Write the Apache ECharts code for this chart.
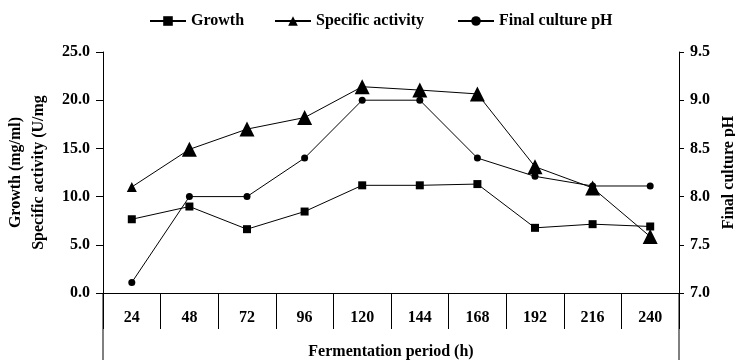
<!DOCTYPE html>
<html>
<head>
<meta charset="utf-8">
<script src="https://cdn.jsdelivr.net/npm/echarts@6/dist/echarts.min.js"></script>
<style>
  html, body { margin: 0; padding: 0; background: #fff; }
  #chart { width: 735px; height: 360px; }
</style>
</head>
<body>
<div id="chart"></div>
<script>
// Fermentation time course: growth, specific activity and final culture pH
const periods = ['24', '48', '72', '96', '120', '144', '168', '192', '216', '240'];
const growth = [7.65, 8.97, 6.62, 8.45, 11.17, 11.17, 11.3, 6.76, 7.14, 6.9];
const specificActivity = [11.0, 14.9, 17.0, 18.2, 21.4, 21.05, 20.65, 13.1, 10.9, 5.85];
const finalPH = [7.11, 8.0, 8.0, 8.4, 9.0, 9.0, 8.4, 8.21, 8.11, 8.11];

const FONT = 'Liberation Serif';
const txt = { fontFamily: FONT, fontWeight: 'bold', fontSize: 16, color: '#000' };

const W = 735, H = 360;
const G = { left: 103, right: 56, top: 52, bottom: 67 };
const axisX0 = G.left, axisX1 = W - G.right, axisY = H - G.bottom;

const chart = echarts.init(document.getElementById('chart'), null, { renderer: 'canvas' });

function legendFor(name, left) {
  return {
    data: [name], left: left, top: 13, padding: 0,
    itemWidth: 36, itemHeight: 12, itemGap: 0,
    textStyle: txt,
    selectedMode: false
  };
}

chart.setOption({
  animation: false,
  backgroundColor: '#fff',
  legend: [
    legendFor('Growth', 149),
    legendFor('Specific activity', 274),
    legendFor('Final culture pH', 457)
  ],
  grid: {
    left: G.left, right: G.right, top: G.top, bottom: G.bottom,
    containLabel: false, outerBoundsMode: 'none'
  },
  xAxis: {
    type: 'category', data: periods, boundaryGap: true,
    axisLine: { show: true, lineStyle: { color: '#000', width: 1 } },
    axisTick: { show: true, interval: 0, length: 36, lineStyle: { color: '#000' } },
    axisLabel: Object.assign({}, txt, { margin: 17, interval: 0 }),
    name: 'Fermentation period (h)', nameLocation: 'middle', nameGap: 51,
    nameTextStyle: txt,
    splitLine: { show: false }
  },
  yAxis: [
    {
      type: 'value', min: 0, max: 25, interval: 5,
      axisLine: { show: true, lineStyle: { color: '#000' } },
      axisTick: { show: true, length: 7, lineStyle: { color: '#000' } },
      axisLabel: Object.assign({}, txt, { margin: 13, formatter: v => v.toFixed(1) }),
      splitLine: { show: false },
      name: 'Growth (mg/ml)\nSpecific activity (U/mg', nameLocation: 'middle', nameGap: 53,
      nameTextStyle: Object.assign({}, txt, { lineHeight: 23 })
    },
    {
      type: 'value', min: 7, max: 9.5, interval: 0.5,
      axisLine: { show: true, lineStyle: { color: '#000' } },
      axisTick: { show: true, length: 5, lineStyle: { color: '#000' } },
      axisLabel: Object.assign({}, txt, { margin: 11, formatter: v => v.toFixed(1) }),
      splitLine: { show: false },
      name: 'Final culture pH', nameLocation: 'middle', nameGap: 40, nameRotate: 90,
      nameTextStyle: txt
    }
  ],
  graphic: [
    { type: 'line', shape: { x1: axisX0, y1: axisY, x2: axisX0, y2: H }, style: { stroke: '#000', lineWidth: 1 } },
    { type: 'line', shape: { x1: axisX1, y1: axisY, x2: axisX1, y2: H }, style: { stroke: '#000', lineWidth: 1 } }
  ],
  series: [
    {
      name: 'Growth', type: 'line', yAxisIndex: 0, data: growth,
      symbol: 'rect', symbolSize: 8,
      lineStyle: { color: '#000', width: 1 }, itemStyle: { color: '#000' }, z: 3
    },
    {
      name: 'Specific activity', type: 'line', yAxisIndex: 0,
      data: specificActivity.map((v, i) => i === 0 ? { value: v, symbolSize: 10 } : v),
      symbol: 'triangle', symbolSize: 15,
      lineStyle: { color: '#000', width: 1 }, itemStyle: { color: '#000' }, z: 4
    },
    {
      name: 'Final culture pH', type: 'line', yAxisIndex: 1, data: finalPH,
      symbol: 'circle', symbolSize: 7,
      lineStyle: { color: '#000', width: 1 }, itemStyle: { color: '#000' }, z: 2
    }
  ]
});
</script>
</body>
</html>
